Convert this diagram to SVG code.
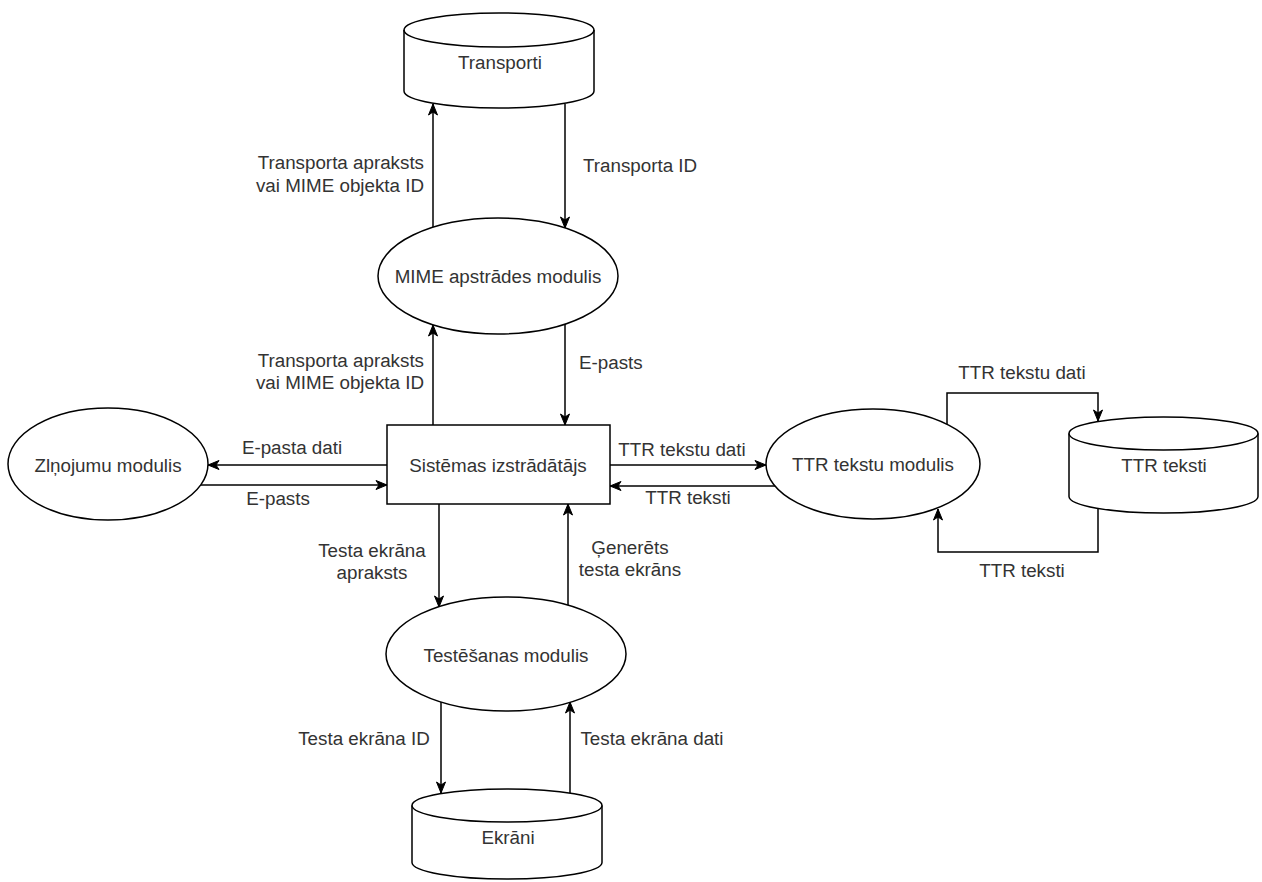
<svg xmlns="http://www.w3.org/2000/svg" width="1262" height="882" viewBox="0 0 1262 882">
<style>
.s{fill:#fff;stroke:#000;stroke-width:1.5}
.c{fill:none;stroke:#000;stroke-width:1.5}
text{font-family:"Liberation Sans",Arial,sans-serif;font-size:18.8px;fill:#333}
.m{text-anchor:middle}
.e{text-anchor:end}
</style>
<defs>
<marker id="a" viewBox="0 0 13 11" markerWidth="13" markerHeight="11" refX="12" refY="5.5" orient="auto" markerUnits="userSpaceOnUse">
<path d="M1,1 L12,5.5 L1,10 L4,5.5 Z" fill="#000" stroke="#000" stroke-width="1"/>
</marker>
</defs>
<rect width="1262" height="882" fill="#fff"/>
<g id="connectors">
<path class="c" marker-end="url(#a)" d="M433,227 L433,104"/>
<path class="c" marker-end="url(#a)" d="M565,104 L565,228"/>
<path class="c" marker-end="url(#a)" d="M433,425 L433,325"/>
<path class="c" marker-end="url(#a)" d="M565,324 L565,425"/>
<path class="c" marker-end="url(#a)" d="M387,465 L208,465"/>
<path class="c" marker-end="url(#a)" d="M201,485 L387,485"/>
<path class="c" marker-end="url(#a)" d="M610,465 L766,465"/>
<path class="c" marker-end="url(#a)" d="M775,486 L610,486"/>
<path class="c" marker-end="url(#a)" d="M947,424 L947,393 L1098,393 L1098,421"/>
<path class="c" marker-end="url(#a)" d="M1098,508 L1098,552 L938,552 L938,509"/>
<path class="c" marker-end="url(#a)" d="M439,504 L439,607"/>
<path class="c" marker-end="url(#a)" d="M568,605 L568,504"/>
<path class="c" marker-end="url(#a)" d="M441,702 L441,793"/>
<path class="c" marker-end="url(#a)" d="M570,793 L570,702"/>
</g>
<g id="labels">
<text class="e" x="424" y="162" dy="0.35em">Transporta apraksts</text>
<text class="e" x="424" y="185" dy="0.35em">vai MIME objekta ID</text>
<text x="583" y="165" dy="0.35em">Transporta ID</text>
<text class="e" x="424" y="360" dy="0.35em">Transporta apraksts</text>
<text class="e" x="424" y="382" dy="0.35em">vai MIME objekta ID</text>
<text x="579" y="362" dy="0.35em">E-pasts</text>
<text class="m" x="292" y="447" dy="0.35em">E-pasta dati</text>
<text class="m" x="278" y="498" dy="0.35em">E-pasts</text>
<text class="m" x="682" y="449" dy="0.35em">TTR tekstu dati</text>
<text class="m" x="688" y="497" dy="0.35em">TTR teksti</text>
<text class="m" x="1022" y="372" dy="0.35em">TTR tekstu dati</text>
<text class="m" x="1022" y="570" dy="0.35em">TTR teksti</text>
<text class="m" x="372" y="550" dy="0.35em">Testa ekrāna</text>
<text class="m" x="372" y="572" dy="0.35em">apraksts</text>
<text class="m" x="630" y="547" dy="0.35em">Ģenerēts</text>
<text class="m" x="630" y="569" dy="0.35em">testa ekrāns</text>
<text class="m" x="364" y="738" dy="0.35em">Testa ekrāna ID</text>
<text class="m" x="652" y="738" dy="0.35em">Testa ekrāna dati</text>
</g>
<g id="transporti">
<path class="s" d="M404,30 A95,17 0 0 1 594,30 L594,91 A95,17 0 0 1 404,91 Z"/>
<path class="c" d="M404,30 A95,17 0 0 0 594,30"/>
<text class="m" x="500" y="62" dy="0.35em">Transporti</text>
</g>
<g id="mime">
<ellipse class="s" cx="498" cy="276" rx="120" ry="58"/>
<text class="m" x="498" y="276" dy="0.35em">MIME apstrādes modulis</text>
</g>
<g id="sistemas">
<rect class="s" x="387" y="425" width="223" height="79"/>
<text class="m" x="498" y="465" dy="0.35em">Sistēmas izstrādātājs</text>
</g>
<g id="zinojumu">
<ellipse class="s" cx="108" cy="464" rx="100" ry="56"/>
<text class="m" x="108" y="465" dy="0.35em">Zlņojumu modulis</text>
</g>
<g id="ttrmodulis">
<ellipse class="s" cx="873" cy="464" rx="107" ry="55"/>
<text class="m" x="873" y="464" dy="0.35em">TTR tekstu modulis</text>
</g>
<g id="ttrteksti">
<path class="s" d="M1069,433.5 A94.5,16.5 0 0 1 1258,433.5 L1258,496.5 A94.5,16.5 0 0 1 1069,496.5 Z"/>
<path class="c" d="M1069,433.5 A94.5,16.5 0 0 0 1258,433.5"/>
<text class="m" x="1164" y="465" dy="0.35em">TTR teksti</text>
</g>
<g id="testesanas">
<ellipse class="s" cx="506" cy="654" rx="120" ry="57"/>
<text class="m" x="506" y="655" dy="0.35em">Testēšanas modulis</text>
</g>
<g id="ekrani">
<path class="s" d="M412,805.5 A95,16.5 0 0 1 602,805.5 L602,862.5 A95,16.5 0 0 1 412,862.5 Z"/>
<path class="c" d="M412,805.5 A95,16.5 0 0 0 602,805.5"/>
<text class="m" x="508" y="837" dy="0.35em">Ekrāni</text>
</g>
</svg>
